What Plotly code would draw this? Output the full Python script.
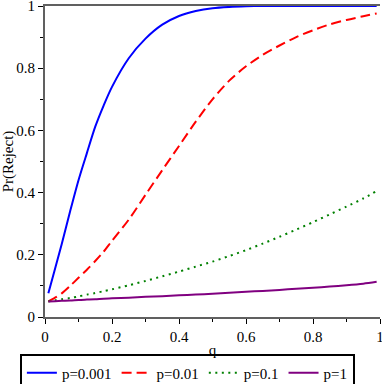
import plotly.graph_objects as go

q = [0.01, 0.03, 0.05, 0.075, 0.1, 0.125, 0.15, 0.175, 0.2, 0.25, 0.3, 0.35,
     0.4, 0.45, 0.5, 0.55, 0.6, 0.65, 0.7, 0.75, 0.8, 0.85, 0.9, 0.95, 0.99]

p_0001 = [0.076, 0.155, 0.235, 0.34, 0.44, 0.527, 0.612, 0.68, 0.74, 0.832, 0.895,
          0.94, 0.968, 0.984, 0.993, 0.997, 0.999, 1.0, 1.0, 1.0, 1.0, 1.0, 1.0, 1.0, 1.0]
p_001 = [0.05, 0.062, 0.076, 0.1, 0.126, 0.152, 0.18, 0.21, 0.245, 0.313, 0.393,
         0.472, 0.55, 0.628, 0.7, 0.76, 0.806, 0.843, 0.873, 0.9, 0.922, 0.941,
         0.955, 0.967, 0.976]
p_01 = [0.05, 0.054, 0.057, 0.061, 0.066, 0.072, 0.077, 0.083, 0.089, 0.102, 0.116,
        0.131, 0.146, 0.162, 0.178, 0.196, 0.215, 0.236, 0.258, 0.281, 0.305, 0.33,
        0.355, 0.381, 0.405]
p_1 = [0.05, 0.051, 0.052, 0.053, 0.055, 0.056, 0.057, 0.059, 0.06, 0.062, 0.065,
       0.067, 0.07, 0.072, 0.075, 0.078, 0.081, 0.084, 0.087, 0.091, 0.094, 0.098,
       0.102, 0.107, 0.113]

series = [
    ("p=0.001", p_0001, "#0000ff", "solid"),
    ("p=0.01", p_001, "#ff0000", "10px,5px"),
    ("p=0.1", p_01, "#008000", "2px,4.5px"),
    ("p=1", p_1, "#800080", "solid"),
]

font = "Liberation Serif"

fig = go.Figure()
for name, ys, color, dash in series:
    fig.add_trace(go.Scatter(x=q, y=ys, mode="lines", name=name,
                             line=dict(color=color, width=2, dash=dash, shape="spline", smoothing=0.8)))

axis_common = dict(
    showgrid=False, zeroline=False, showline=True, linecolor="#606060", linewidth=2,
    ticks="outside", ticklen=5, tickwidth=1, tickcolor="#000000",
    tickfont=dict(family=font, size=15, color="#000000"),
    range=[0, 1], dtick=0.2, tick0=0, automargin=False, ticklabeloverflow="allow",
    minor=dict(dtick=0.1, tick0=0, ticklen=3, tickwidth=1, tickcolor="#000000", ticks="outside"),
)

fig.update_xaxes(**axis_common, mirror=True,
                 title=dict(text="q", font=dict(family=font, size=15, color="#000000"), standoff=0))
fig.update_yaxes(**axis_common,
                 title=dict(text="Pr(Reject)", font=dict(family=font, size=15, color="#000000"), standoff=4))

fig.update_layout(
    width=382, height=384,
    margin=dict(l=45, r=2, t=6, b=67, autoexpand=False),
    paper_bgcolor="white", plot_bgcolor="white",
    font=dict(family=font, size=15, color="#000000"),
    legend=dict(orientation="h", x=-0.075, xanchor="left", y=-0.2395, yanchor="bottom",
                bordercolor="#000000", borderwidth=2, bgcolor="rgba(255,255,255,0)",
                font=dict(family=font, size=15, color="#000000"),
                itemwidth=30, tracegroupgap=0),
    showlegend=True,
)

fig.write_html("out.html", config={"displayModeBar": False},
               post_script="document.body.style.margin='0px';")
